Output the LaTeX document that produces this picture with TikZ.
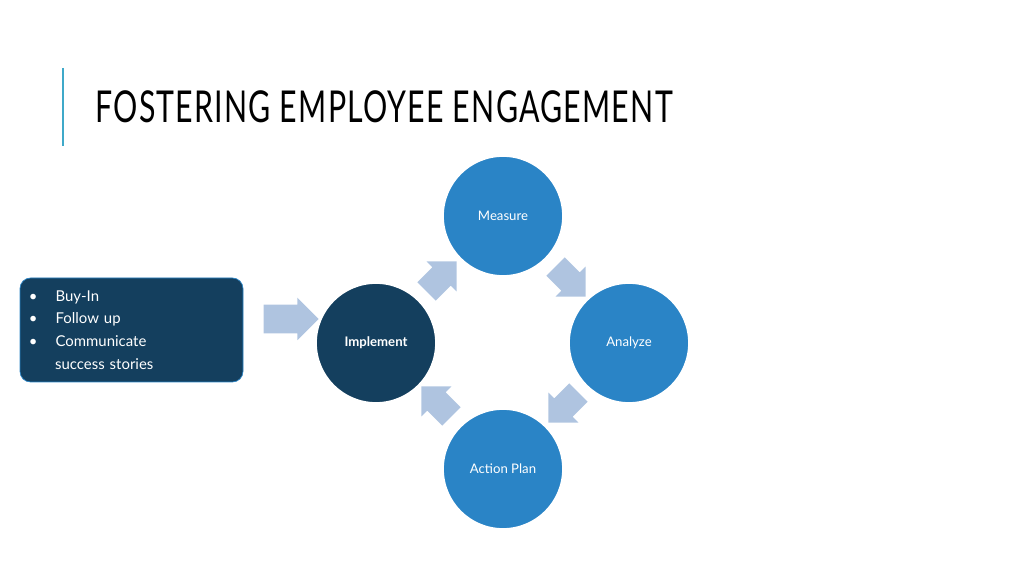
\documentclass[tikz,border=0pt]{standalone}
\usepackage{fontspec}
\setmainfont{Lato}
\usetikzlibrary{shapes.arrows}
\definecolor{navy}{HTML}{143F5E}
\definecolor{midblue}{HTML}{2A84C6}
\definecolor{paleblue}{HTML}{AFC4E0}
\definecolor{teal}{HTML}{3FA9C9}
\tikzset{
  stage/.style={circle, fill=midblue, draw=white, line width=1pt, minimum size=2.4cm, text=white, font=\fontsize{7.5}{9}\selectfont},
  flow/.style={single arrow, fill=paleblue, minimum height=0.85cm, minimum width=0.85cm, single arrow head extend=0.1cm, inner sep=0.15cm}
}
\begin{document}
\begin{tikzpicture}
    \useasboundingbox (0,0) rectangle (20.48,11.52);
    \draw [teal, line width=1pt] (1.26,10.16) -- (1.26,8.60);
    \node [anchor=west, inner sep=0pt] (title) at (1.90,9.38)
        {\scalebox{0.69}[1]{\fontsize{25}{28}\selectfont\addfontfeature{LetterSpace=4}FOSTERING EMPLOYEE ENGAGEMENT}};

    \node [stage] (measure) at (10.06,7.20) {Measure};
    \node [stage] (analyze) at (12.58,4.66) {Analyze};
    \node [stage] (action) at (10.06,2.14) {Action Plan};
    \node [stage, fill=navy, font=\fontsize{7.5}{9}\selectfont\bfseries] (implement) at (7.52,4.66) {Implement};

    \node [flow, rotate=-45] (a1) at (11.32,5.98) {};
    \node [flow, rotate=-135] (a2) at (11.36,3.46) {};
    \node [flow, rotate=135] (a3) at (8.82,3.40) {};
    \node [flow, rotate=45] (a4) at (8.74,5.90) {};

    \node [draw=midblue, fill=navy, rounded corners=6pt, minimum width=4.46cm, minimum height=2.08cm, text=white, align=left, text width=4.1cm, font=\fontsize{8.5}{13}\selectfont] (box) at (2.63,4.92)
        {\textbullet\hspace{1.2em}Buy-In\\ \textbullet\hspace{1.2em}Follow up\\ \textbullet\hspace{1.2em}Communicate\\ \hspace{1.75em}success stories};
    \node [flow, minimum height=1.1cm, minimum width=0.85cm, inner sep=0.2cm] (a0) at (5.68,5.14) {};
\end{tikzpicture}
\end{document}
